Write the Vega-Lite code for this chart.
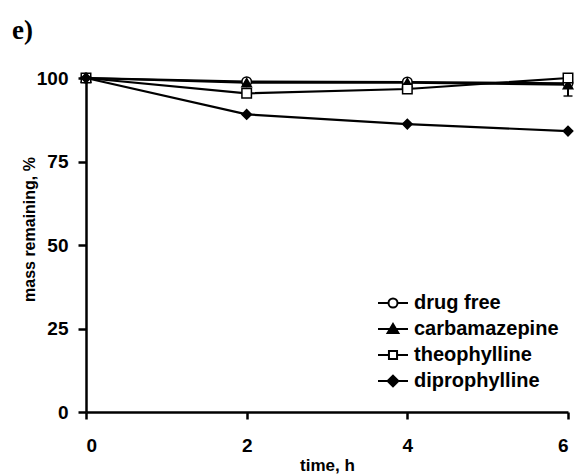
{
  "$schema": "https://vega.github.io/schema/vega-lite/v6.json",
  "width": 482,
  "height": 334,
  "autosize": {"type": "none"},
  "padding": {"left": 86, "top": 78, "right": 8, "bottom": 64},
  "background": "white",
  "title": {"text": "e)", "anchor": "start", "frame": "group", "font": "Liberation Serif", "fontSize": 27, "fontWeight": "bold", "color": "black", "dx": -74, "offset": 3, "baseline": "alphabetic"},
  "config": {
    "view": {"stroke": null},
    "axis": {"grid": false, "domainColor": "black", "tickColor": "black", "domainWidth": 2.5, "tickWidth": 2.5, "labelColor": "black", "titleColor": "black", "labelFont": "Liberation Sans", "titleFont": "Liberation Sans", "labelFontWeight": "bold", "titleFontWeight": "bold"}
  },
  "datasets": {
    "main": [
      {"series": "drug free", "time": 0, "mass": 100},
      {"series": "drug free", "time": 2, "mass": 98.9},
      {"series": "drug free", "time": 4, "mass": 98.8},
      {"series": "drug free", "time": 6, "mass": 98.4},
      {"series": "carbamazepine", "time": 0, "mass": 100},
      {"series": "carbamazepine", "time": 2, "mass": 98.6},
      {"series": "carbamazepine", "time": 4, "mass": 98.6},
      {"series": "carbamazepine", "time": 6, "mass": 98.0},
      {"series": "theophylline", "time": 0, "mass": 100},
      {"series": "theophylline", "time": 2, "mass": 95.4},
      {"series": "theophylline", "time": 4, "mass": 96.7},
      {"series": "theophylline", "time": 6, "mass": 100},
      {"series": "diprophylline", "time": 0, "mass": 100},
      {"series": "diprophylline", "time": 2, "mass": 89.1},
      {"series": "diprophylline", "time": 4, "mass": 86.2},
      {"series": "diprophylline", "time": 6, "mass": 84.1}
    ],
    "err": [
      {"series": "carbamazepine", "time": 6, "lo": 94.6, "hi": 98.0}
    ]
  },
  "layer": [
    {
      "data": {"name": "main"},
      "mark": {"type": "line", "color": "black", "strokeWidth": 2.2},
      "encoding": {
        "x": {"field": "time", "type": "quantitative", "scale": {"domain": [0, 6], "nice": false},
              "axis": {"values": [0, 2, 4, 6], "format": "d", "tickSize": 7, "labelFontSize": 19, "labelPadding": 17, "title": "time, h", "titleFontSize": 17, "titlePadding": 2}},
        "y": {"field": "mass", "type": "quantitative", "scale": {"domain": [0, 100], "nice": false},
              "axis": {"values": [0, 25, 50, 75, 100], "format": "d", "tickSize": 8, "labelFontSize": 19, "labelPadding": 10, "title": "mass remaining, %", "titleFontSize": 16, "titleX": -57, "titleY": 151, "titleAlign": "center", "titleBaseline": "middle", "titleAngle": -90}},
        "detail": {"field": "series"}
      }
    },
    {
      "data": {"name": "err"},
      "mark": {"type": "rule", "color": "black", "strokeWidth": 2},
      "encoding": {
        "x": {"field": "time", "type": "quantitative"},
        "y": {"field": "lo", "type": "quantitative"},
        "y2": {"field": "hi"}
      }
    },
    {
      "data": {"name": "err"},
      "mark": {"type": "tick", "color": "black", "orient": "horizontal", "size": 9, "thickness": 2},
      "encoding": {
        "x": {"field": "time", "type": "quantitative"},
        "y": {"field": "lo", "type": "quantitative"}
      }
    },
    {
      "data": {"name": "main"},
      "mark": {"type": "point", "filled": true, "opacity": 1, "stroke": "black", "strokeWidth": 1.5, "size": 90},
      "encoding": {
        "x": {"field": "time", "type": "quantitative"},
        "y": {"field": "mass", "type": "quantitative"},
        "shape": {"field": "series", "type": "nominal", "legend": null,
                  "scale": {"domain": ["drug free", "carbamazepine", "theophylline", "diprophylline"], "range": ["circle", "triangle-up", "square", "diamond"]}},
        "fill": {"field": "series", "type": "nominal", "legend": null,
                 "scale": {"domain": ["drug free", "carbamazepine", "theophylline", "diprophylline"], "range": ["white", "black", "white", "black"]}}
      }
    },
    {
      "data": {"name": "main"},
      "mark": {"type": "point", "filled": true, "opacity": 0, "stroke": "black"},
      "encoding": {
        "x": {"field": "time", "type": "quantitative"},
        "y": {"field": "mass", "type": "quantitative"},
        "shape": {"field": "series", "type": "nominal",
                  "scale": {"domain": ["drug free", "carbamazepine", "theophylline", "diprophylline"],
                            "range": ["M-1,0H-0.3M0.3,0H1M0.3,0A0.3,0.3,0,1,1,-0.3,0A0.3,0.3,0,1,1,0.3,0Z",
                                      "M-1,0H1M0,-0.33L0.36,0.27L-0.36,0.27Z",
                                      "M-1,0H-0.27M0.27,0H1M-0.27,-0.27H0.27V0.27H-0.27Z",
                                      "M-1,0H1M0,-0.36L0.36,0L0,0.36L-0.36,0Z"]},
                  "legend": {"orient": "none", "legendX": 291, "legendY": 209, "title": null, "symbolSize": 900, "symbolStrokeWidth": 2, "symbolStrokeColor": "black", "symbolOpacity": 1, "labelFont": "Liberation Sans", "labelFontSize": 20, "labelFontWeight": "bold", "labelColor": "black", "labelOffset": 5, "rowPadding": 0, "padding": 0,
                             "encode": {"symbols": {"update": {"stroke": {"value": "black"}, "strokeWidth": {"value": 2}, "strokeOpacity": {"value": 1}, "opacity": {"value": 1}}}}}},
        "fill": {"field": "series", "type": "nominal",
                 "scale": {"domain": ["drug free", "carbamazepine", "theophylline", "diprophylline"], "range": ["white", "black", "white", "black"]},
                 "legend": {"orient": "none", "legendX": 291, "legendY": 209, "title": null, "symbolSize": 900, "symbolStrokeWidth": 2, "symbolStrokeColor": "black", "symbolOpacity": 1, "labelFont": "Liberation Sans", "labelFontSize": 20, "labelFontWeight": "bold", "labelColor": "black", "labelOffset": 5, "rowPadding": 0, "padding": 0,
                            "encode": {"symbols": {"update": {"stroke": {"value": "black"}, "strokeWidth": {"value": 2}, "strokeOpacity": {"value": 1}, "opacity": {"value": 1}}}}}}
      }
    }
  ],
  "resolve": {"scale": {"shape": "independent", "fill": "independent"}, "legend": {"shape": "independent", "fill": "independent"}}
}
